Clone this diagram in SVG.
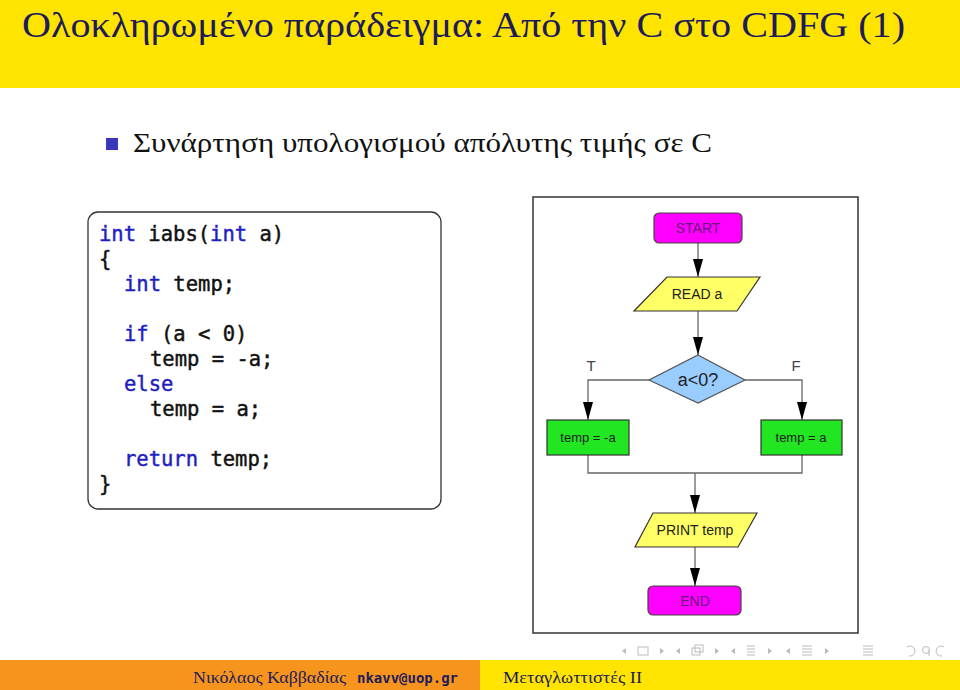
<svg xmlns="http://www.w3.org/2000/svg" width="960" height="690" viewBox="0 0 960 690">
<defs>
<style>
.title{font-family:"Liberation Serif","DejaVu Serif",serif;fill:#1c1c5c}
.code{font-family:"DejaVu Sans Mono","Liberation Mono",monospace;font-size:20.5px;fill:#111;stroke:#111;stroke-width:0.45}
.kw{fill:#1f1fc0;stroke:#1f1fc0}
.fc{font-family:"Liberation Sans",Arial,sans-serif;font-size:14px;text-anchor:middle;fill:#222}
.term{fill:#ff00ff;stroke:#444;stroke-width:1.2}
.io{fill:#ffff66;stroke:#333;stroke-width:1.2}
.proc{fill:#22e622;stroke:#333;stroke-width:1.2}
.dec{fill:#99ccff;stroke:#555;stroke-width:1.2}
.edge{fill:none;stroke:#666;stroke-width:1.3}
.nav{fill:none;stroke:#bbb;stroke-width:1}
.navf{fill:#bbb}
</style>
<marker id="ah" viewBox="0 0 18 10" refX="18" refY="5" markerWidth="18" markerHeight="10" markerUnits="userSpaceOnUse" orient="auto">
<path d="M0,0 L18,5 L0,10 Z" fill="#000"/>
</marker>
</defs>
<rect width="960" height="690" fill="#fff"/>
<!-- header -->
<rect x="0" y="0" width="960" height="88" fill="#ffe400"/>
<text class="title" x="22" y="37" font-size="35" textLength="883" lengthAdjust="spacingAndGlyphs">Ολοκληρωμένο παράδειγμα: Από την C στο CDFG (1)</text>
<!-- bullet -->
<rect x="106" y="138" width="12" height="12" fill="#3838b8"/>
<text class="title" x="133" y="152" font-size="27" style="fill:#111" textLength="579" lengthAdjust="spacingAndGlyphs">Συνάρτηση υπολογισμού απόλυτης τιμής σε C</text>
<!-- code box -->
<g id="code">
<rect x="88" y="212" width="353" height="297" rx="10" fill="#fff" stroke="#333" stroke-width="1.3"/>
<text class="code" x="99" y="241"><tspan class="kw">int</tspan> iabs(<tspan class="kw">int</tspan> a)</text>
<text class="code" x="99" y="266">{</text>
<text class="code" x="124" y="291"><tspan class="kw">int</tspan> temp;</text>
<text class="code" x="124" y="341"><tspan class="kw">if</tspan> (a &lt; 0)</text>
<text class="code" x="150" y="366">temp = -a;</text>
<text class="code" x="124" y="391"><tspan class="kw">else</tspan></text>
<text class="code" x="150" y="416">temp = a;</text>
<text class="code" x="124" y="466"><tspan class="kw">return</tspan> temp;</text>
<text class="code" x="99" y="491">}</text>
</g>
<!-- flowchart frame -->
<rect x="533" y="197" width="325" height="436" fill="#fff" stroke="#333" stroke-width="1.5"/>
<g id="connectors">
<path class="edge" d="M698,243 V277" marker-end="url(#ah)"/>
<path class="edge" d="M698,311 V355" marker-end="url(#ah)"/>
<path class="edge" d="M649,380 H588 V420" marker-end="url(#ah)"/>
<path class="edge" d="M745,380 H802 V420" marker-end="url(#ah)"/>
<path class="edge" d="M588,455 V473 H802 V455"/>
<path class="edge" d="M695,473 V513" marker-end="url(#ah)"/>
<path class="edge" d="M695,547 V586" stroke="#222" marker-end="url(#ah)"/>
</g>
<g id="start">
<rect class="term" x="654" y="213" width="88" height="30" rx="5"/>
<text class="fc" x="698" y="233" style="fill:#6a1a7a">START</text>
</g>
<g id="read">
<polygon class="io" points="667,277 760,277 737,311 634,311"/>
<text class="fc" x="697" y="299">READ a</text>
</g>
<g id="decision">
<polygon class="dec" points="698,355 745,380 698,403 649,380"/>
<text class="fc" x="698" y="386" style="font-size:18px">a&lt;0?</text>
</g>
<g id="labels">
<text class="fc" x="591" y="371" style="font-size:15px;fill:#444">T</text>
<text class="fc" x="796" y="371" style="font-size:15px;fill:#444">F</text>
</g>
<g id="neg">
<rect class="proc" x="547" y="420" width="82" height="35"/>
<text class="fc" x="588" y="442" style="font-size:13px">temp = -a</text>
</g>
<g id="pos">
<rect class="proc" x="761" y="420" width="81" height="35"/>
<text class="fc" x="801" y="442" style="font-size:13px">temp = a</text>
</g>
<g id="print">
<polygon class="io" points="653,513 757,513 738,547 635,547"/>
<text class="fc" x="695" y="535">PRINT temp</text>
</g>
<g id="end">
<rect class="term" x="648" y="586" width="93" height="29" rx="5"/>
<text class="fc" x="695" y="606" style="fill:#6a1a7a">END</text>
</g>
<!-- navigation symbols -->
<g id="navigation">
<polygon class="navf" points="622,651 626,648 626,654"/>
<rect class="nav" x="638" y="647" width="10" height="8"/>
<polygon class="navf" points="664,651 660,648 660,654"/>
<polygon class="navf" points="676,651 680,648 680,654"/>
<rect class="nav" x="692" y="648" width="8" height="7"/><rect class="nav" x="695" y="645" width="8" height="7"/>
<polygon class="navf" points="719,651 715,648 715,654"/>
<polygon class="navf" points="731,651 735,648 735,654"/>
<path class="nav" d="M747,646 H755 M747,649 H755 M747,652 H755 M747,655 H755"/>
<polygon class="navf" points="772,651 768,648 768,654"/>
<polygon class="navf" points="786,651 790,648 790,654"/>
<path class="nav" d="M802,646 H812 M802,649 H812 M802,652 H812 M802,655 H812"/>
<polygon class="navf" points="829,651 825,648 825,654"/>
<path class="nav" d="M863,646 H873 M863,649 H873 M863,652 H873 M863,655 H873"/>
<path class="nav" d="M907,647 A5,5 0 1 1 909,656"/>
<circle class="nav" cx="926" cy="650" r="3.5"/><path class="nav" d="M929,650 V656"/>
<path class="nav" d="M944,647 A5,5 0 1 0 942,656"/>
</g>
<!-- footer -->
<rect x="0" y="660" width="480" height="30" fill="#f7941d"/>
<rect x="480" y="660" width="480" height="30" fill="#ffe400"/>
<text class="title" x="193" y="683" font-size="16" textLength="153" lengthAdjust="spacingAndGlyphs">Νικόλαος Καββαδίας</text>
<text x="357" y="683" font-family="DejaVu Sans Mono, Liberation Mono, monospace" font-weight="bold" font-size="14" fill="#1c1c5c" textLength="101" lengthAdjust="spacingAndGlyphs">nkavv@uop.gr</text>
<text class="title" x="503" y="683" font-size="16" textLength="139" lengthAdjust="spacingAndGlyphs">Μεταγλωττιστές ΙΙ</text>
</svg>
